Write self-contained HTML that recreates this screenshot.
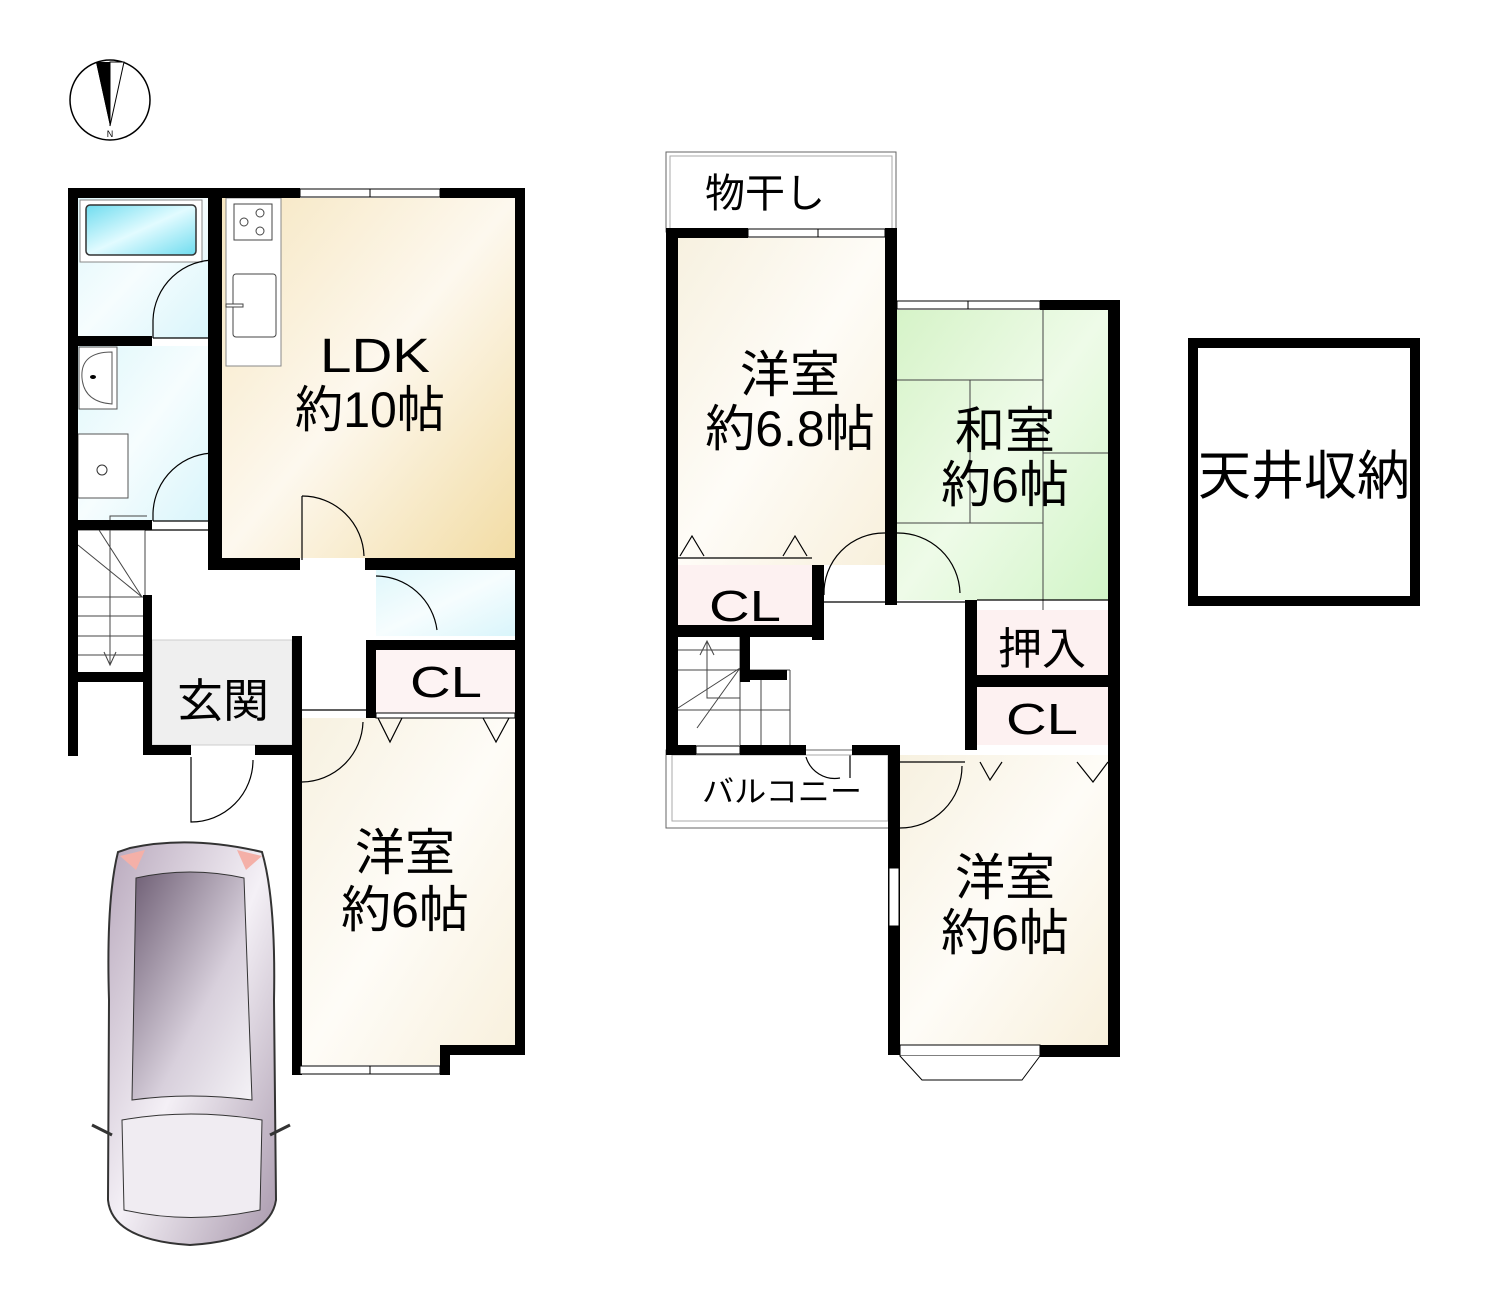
<!DOCTYPE html>
<html><head><meta charset="utf-8"><style>
body{margin:0;background:#fff}
svg{display:block}
text{font-family:"Liberation Sans","Noto Sans CJK JP",sans-serif;fill:#000}
</style></head><body>
<svg width="1488" height="1303" viewBox="0 0 1488 1303" xmlns="http://www.w3.org/2000/svg">
<defs>
<linearGradient id="ldk" x1="0" y1="0" x2="1" y2="1"><stop offset="0" stop-color="#f6e6c0"/><stop offset="0.5" stop-color="#fdf8ee"/><stop offset="1" stop-color="#f2dca4"/></linearGradient>
<linearGradient id="beige" x1="0" y1="0" x2="1" y2="1"><stop offset="0" stop-color="#f7f1e0"/><stop offset="0.5" stop-color="#fefcf7"/><stop offset="1" stop-color="#f8f0dc"/></linearGradient>
<linearGradient id="cyan" x1="0" y1="0" x2="1" y2="1"><stop offset="0" stop-color="#dff7fb"/><stop offset="0.5" stop-color="#f6fdfe"/><stop offset="1" stop-color="#d9f5fb"/></linearGradient>
<linearGradient id="green" x1="0" y1="0" x2="1" y2="1"><stop offset="0" stop-color="#d6f3c8"/><stop offset="0.5" stop-color="#eefbe8"/><stop offset="1" stop-color="#d2f5c8"/></linearGradient>
<linearGradient id="tub" x1="0" y1="0" x2="1" y2="1"><stop offset="0" stop-color="#6fdcef"/><stop offset="0.5" stop-color="#e2fbff"/><stop offset="1" stop-color="#6fdcef"/></linearGradient>
<linearGradient id="car" x1="0" y1="0" x2="1" y2="1"><stop offset="0" stop-color="#b8a8bc"/><stop offset="0.5" stop-color="#f4f0f6"/><stop offset="1" stop-color="#a898ac"/></linearGradient>
<linearGradient id="carin" x1="0" y1="0" x2="1" y2="1"><stop offset="0" stop-color="#6e5e74"/><stop offset="0.6" stop-color="#d8d0dc"/><stop offset="1" stop-color="#f4f2f6"/></linearGradient>
</defs>

<!-- compass -->
<circle cx="110" cy="100" r="40" fill="#fff" stroke="#000" stroke-width="1.5"/>
<polygon points="96,62 124,62 110,126" fill="#000"/>
<polygon points="110,62 124,62 110,126" fill="#fff" stroke="#000" stroke-width="1"/>
<polygon points="96,62 110,62 110,126" fill="#000"/>
<text x="110" y="137" font-size="9" text-anchor="middle">N</text>

<!-- ===== LEFT FLOOR ===== -->
<rect x="222" y="198" width="293" height="360" fill="url(#ldk)"/>
<rect x="78" y="198" width="130" height="140" fill="url(#cyan)"/>
<rect x="78" y="346" width="130" height="175" fill="url(#cyan)"/>
<rect x="376" y="570" width="139" height="66" fill="url(#cyan)"/>
<rect x="376" y="650" width="139" height="65" fill="#fdf3f3"/>
<rect x="152" y="640" width="140" height="105" fill="#efefef" stroke="#ccc" stroke-width="1"/>
<rect x="302" y="718" width="213" height="347" fill="url(#beige)"/>
<rect x="440" y="1045" width="75" height="20" fill="#fff"/>

<!-- tub -->
<rect x="80" y="200" width="122" height="62" fill="#fff" stroke="#888" stroke-width="1"/>
<rect x="86" y="205" width="110" height="50" rx="4" fill="url(#tub)" stroke="#333" stroke-width="1.5"/>
<!-- sink -->
<rect x="79" y="347" width="38" height="62" fill="#fff" stroke="#555" stroke-width="1"/>
<path d="M112 352 Q80 352 82 378 Q84 402 112 404 Z" fill="#fff" stroke="#555"/>
<ellipse cx="93" cy="377" rx="3" ry="2" fill="#000"/>
<rect x="78" y="434" width="50" height="64" fill="#fff" stroke="#555" stroke-width="1"/>
<circle cx="102" cy="470" r="5" fill="#fff" stroke="#333"/>
<!-- kitchen -->
<rect x="226" y="198" width="55" height="168" fill="#fff" stroke="#888"/>
<rect x="234" y="204" width="38" height="36" fill="#fff" stroke="#444"/>
<circle cx="244" cy="222" r="4" fill="none" stroke="#444"/><circle cx="260" cy="213" r="4" fill="none" stroke="#444"/><circle cx="260" cy="231" r="4" fill="none" stroke="#444"/>
<rect x="233" y="274" width="43" height="63" rx="3" fill="#fff" stroke="#444"/>
<rect x="226" y="304" width="17" height="3" fill="#fff" stroke="#444"/>

<!-- stairs lower-left -->
<g stroke="#444" stroke-width="1" fill="none">
<line x1="78" y1="530" x2="145" y2="530"/><line x1="145" y1="530" x2="145" y2="596"/>
<line x1="78" y1="545" x2="142" y2="597"/><line x1="99" y1="530" x2="142" y2="597"/>
<line x1="78" y1="597" x2="143" y2="597"/><line x1="78" y1="616" x2="143" y2="616"/><line x1="78" y1="636" x2="143" y2="636"/><line x1="78" y1="655" x2="143" y2="655"/>
<polyline points="147,516 110,516 110,665"/>
<polyline points="104,652 110,665 116,652"/>
</g>

<!-- doors left -->
<g stroke="#000" stroke-width="1.2" fill="none">
<path d="M217 260 A62 62 0 0 0 153 320 L153 338"/>
<path d="M217 453 A62 62 0 0 0 153 513 L153 521"/>
<line x1="153" y1="338" x2="217" y2="338"/><line x1="153" y1="521" x2="217" y2="521"/>
<path d="M302 496 A62 62 0 0 1 364 556"/><line x1="302" y1="496" x2="302" y2="560"/>
<path d="M376 576 A62 62 0 0 1 437 630"/>
<path d="M302 782 A62 62 0 0 0 363 722"/>
<path d="M191 757 L191 822 A62 62 0 0 0 253 760"/>
<polyline points="378,718 390,742 402,718"/><polyline points="483,718 496,742 509,718"/>
<line x1="302" y1="710" x2="366" y2="710"/>
<line x1="222" y1="530" x2="145" y2="530"/>
</g>

<!-- left walls -->
<g fill="#000">
<rect x="68" y="188" width="10" height="568"/>
<rect x="68" y="188" width="150" height="10"/>
<rect x="208" y="188" width="14" height="382"/>
<rect x="218" y="188" width="82" height="10"/><rect x="440" y="188" width="85" height="10"/>
<rect x="515" y="188" width="10" height="867"/>
<rect x="68" y="336" width="84" height="10"/>
<rect x="68" y="520" width="84" height="10"/>
<rect x="218" y="558" width="82" height="12"/><rect x="365" y="558" width="160" height="12"/>
<rect x="143" y="595" width="9" height="160"/>
<rect x="68" y="672" width="84" height="10"/>
<rect x="143" y="745" width="48" height="10"/><rect x="255" y="745" width="47" height="10"/>
<rect x="292" y="636" width="10" height="439"/>
<rect x="366" y="640" width="10" height="78"/>
<rect x="366" y="640" width="159" height="10"/>
<rect x="292" y="1065" width="8" height="10"/>
<rect x="440" y="1045" width="10" height="30"/>
<rect x="440" y="1045" width="85" height="10"/>
</g>
<g fill="#fff" stroke="#000" stroke-width="1">
<rect x="300" y="189" width="140" height="8"/><line x1="370" y1="189" x2="370" y2="197"/>
<rect x="300" y="1066" width="140" height="8"/><line x1="370" y1="1066" x2="370" y2="1074"/>
<rect x="376" y="713" width="139" height="5"/>
</g>

<text x="320" y="372" font-size="48" textLength="110" lengthAdjust="spacingAndGlyphs">LDK</text>
<text x="295" y="427" font-size="50" textLength="150" lengthAdjust="spacingAndGlyphs">約10帖</text>
<text x="410" y="697" font-size="44" textLength="72" lengthAdjust="spacingAndGlyphs">CL</text>
<text x="223" y="717" font-size="46" text-anchor="middle">玄関</text>
<text x="405" y="870" font-size="50" text-anchor="middle">洋室</text>
<text x="405" y="927" font-size="50" text-anchor="middle">約6帖</text>

<!-- car -->
<path d="M130 848 Q190 835 262 852 Q276 900 274 1000 L276 1200 Q270 1240 190 1245 Q112 1240 108 1200 L109 1000 Q106 900 118 852 Z" fill="url(#car)" stroke="#333" stroke-width="2"/>
<path d="M136 878 Q190 866 244 878 L252 1100 Q190 1092 132 1100 Z" fill="url(#carin)" stroke="#333"/>
<path d="M122 1120 Q190 1108 262 1120 L260 1210 Q190 1225 124 1210 Z" fill="#f0ecf2" stroke="#333"/>
<path d="M120 856 L145 850 L136 870 Z" fill="#f4b0a8"/><path d="M262 856 L237 850 L246 870 Z" fill="#f4b0a8"/>
<line x1="92" y1="1125" x2="112" y2="1135" stroke="#333" stroke-width="3"/><line x1="290" y1="1125" x2="270" y2="1135" stroke="#333" stroke-width="3"/>

<!-- ===== RIGHT FLOOR ===== -->
<rect x="666" y="152" width="230" height="80" fill="#fff" stroke="#666" stroke-width="1"/>
<rect x="670" y="156" width="222" height="76" fill="none" stroke="#aaa" stroke-width="1"/>
<rect x="678" y="238" width="207" height="327" fill="url(#beige)"/>
<rect x="897" y="310" width="211" height="290" fill="url(#green)"/>
<rect x="678" y="565" width="134" height="60" fill="#fdf1f1"/>
<rect x="977" y="610" width="131" height="65" fill="#fdf1f1"/>
<rect x="977" y="687" width="131" height="58" fill="#fdf1f1"/>
<rect x="900" y="755" width="208" height="290" fill="url(#beige)"/>

<g stroke="#444" stroke-width="1" fill="none">
<line x1="1043" y1="310" x2="1043" y2="600"/>
<line x1="897" y1="380" x2="1043" y2="380"/>
<line x1="970" y1="380" x2="970" y2="523"/>
<line x1="897" y1="523" x2="1043" y2="523"/>
<line x1="1043" y1="453" x2="1108" y2="453"/>
<line x1="1043" y1="600" x2="1043" y2="610"/>
<line x1="678" y1="650" x2="740" y2="650"/><line x1="678" y1="670" x2="740" y2="670"/>
<line x1="740" y1="670" x2="790" y2="670"/><line x1="740" y1="637" x2="740" y2="745"/>
<line x1="761" y1="670" x2="761" y2="745"/><line x1="790" y1="670" x2="790" y2="745"/>
<line x1="678" y1="710" x2="790" y2="710"/>
<polyline points="707,641 707,698 740,698"/>
<polyline points="700,655 707,641 714,655"/>
<line x1="740" y1="668" x2="678" y2="708"/><line x1="740" y1="668" x2="697" y2="728"/>
</g>

<g stroke="#000" stroke-width="1.2" fill="none">
<polyline points="680,556 692,536 704,556"/><polyline points="783,556 795,536 807,556"/>
<line x1="678" y1="558" x2="812" y2="558"/>
<path d="M824 595 A60 60 0 0 1 885 533"/>
<path d="M897 533 A62 62 0 0 1 960 593"/>
<line x1="824" y1="602" x2="965" y2="602"/><line x1="977" y1="600" x2="1110" y2="600"/>
<path d="M900 828 A62 62 0 0 0 962 766"/>
<line x1="900" y1="762" x2="965" y2="762"/>
<polyline points="980,762 990,780 1002,762"/><polyline points="1077,762 1093,782 1108,762"/>
<path d="M806 757 A30 30 0 0 0 840 778"/><line x1="850" y1="755" x2="850" y2="778"/>
</g>
<rect x="666" y="750" width="224" height="78" fill="none" stroke="#666"/>
<rect x="672" y="755" width="216" height="66" fill="none" stroke="#aaa"/>

<g fill="#000">
<rect x="666" y="228" width="12" height="527"/>
<rect x="666" y="228" width="82" height="10"/><rect x="885" y="228" width="12" height="377"/>
<rect x="1040" y="300" width="80" height="10"/>
<rect x="1108" y="300" width="12" height="755"/>
<rect x="812" y="565" width="12" height="75"/>
<rect x="666" y="625" width="158" height="12"/>
<rect x="740" y="637" width="10" height="45"/><rect x="740" y="670" width="47" height="10"/>
<rect x="965" y="600" width="12" height="150"/>
<rect x="965" y="675" width="155" height="12"/>
<rect x="666" y="745" width="30" height="10"/><rect x="740" y="745" width="66" height="10"/><rect x="852" y="745" width="48" height="10"/>
<rect x="888" y="745" width="12" height="310"/>
<rect x="1040" y="1045" width="80" height="12"/>
</g>
<g fill="#fff" stroke="#000" stroke-width="1">
<rect x="748" y="229" width="137" height="8"/><line x1="818" y1="229" x2="818" y2="237"/>
<rect x="897" y="301" width="143" height="8"/><line x1="968" y1="301" x2="968" y2="309"/>
<rect x="889" y="868" width="10" height="58"/>
<rect x="900" y="1045" width="140" height="11"/>
<polyline points="900,1056 922,1080 1022,1080 1040,1056"/>
<rect x="696" y="746" width="44" height="8"/>
</g>

<text x="765" y="207" font-size="40" text-anchor="middle">物干し</text>
<text x="790" y="392" font-size="50" text-anchor="middle">洋室</text>
<text x="790" y="446" font-size="50" text-anchor="middle">約6.8帖</text>
<text x="1005" y="448" font-size="50" text-anchor="middle">和室</text>
<text x="1005" y="502" font-size="50" text-anchor="middle">約6帖</text>
<text x="709" y="621" font-size="44" textLength="72" lengthAdjust="spacingAndGlyphs">CL</text>
<text x="1042" y="664" font-size="44" text-anchor="middle">押入</text>
<text x="1006" y="734" font-size="44" textLength="72" lengthAdjust="spacingAndGlyphs">CL</text>
<text x="702" y="802" font-size="30" textLength="160" lengthAdjust="spacingAndGlyphs">バルコニー</text>
<text x="1005" y="895" font-size="50" text-anchor="middle">洋室</text>
<text x="1005" y="950" font-size="50" text-anchor="middle">約6帖</text>

<rect x="1193" y="343" width="222" height="258" fill="#fff" stroke="#000" stroke-width="10"/>
<text x="1304" y="494" font-size="53" text-anchor="middle">天井収納</text>
</svg>
</body></html>
